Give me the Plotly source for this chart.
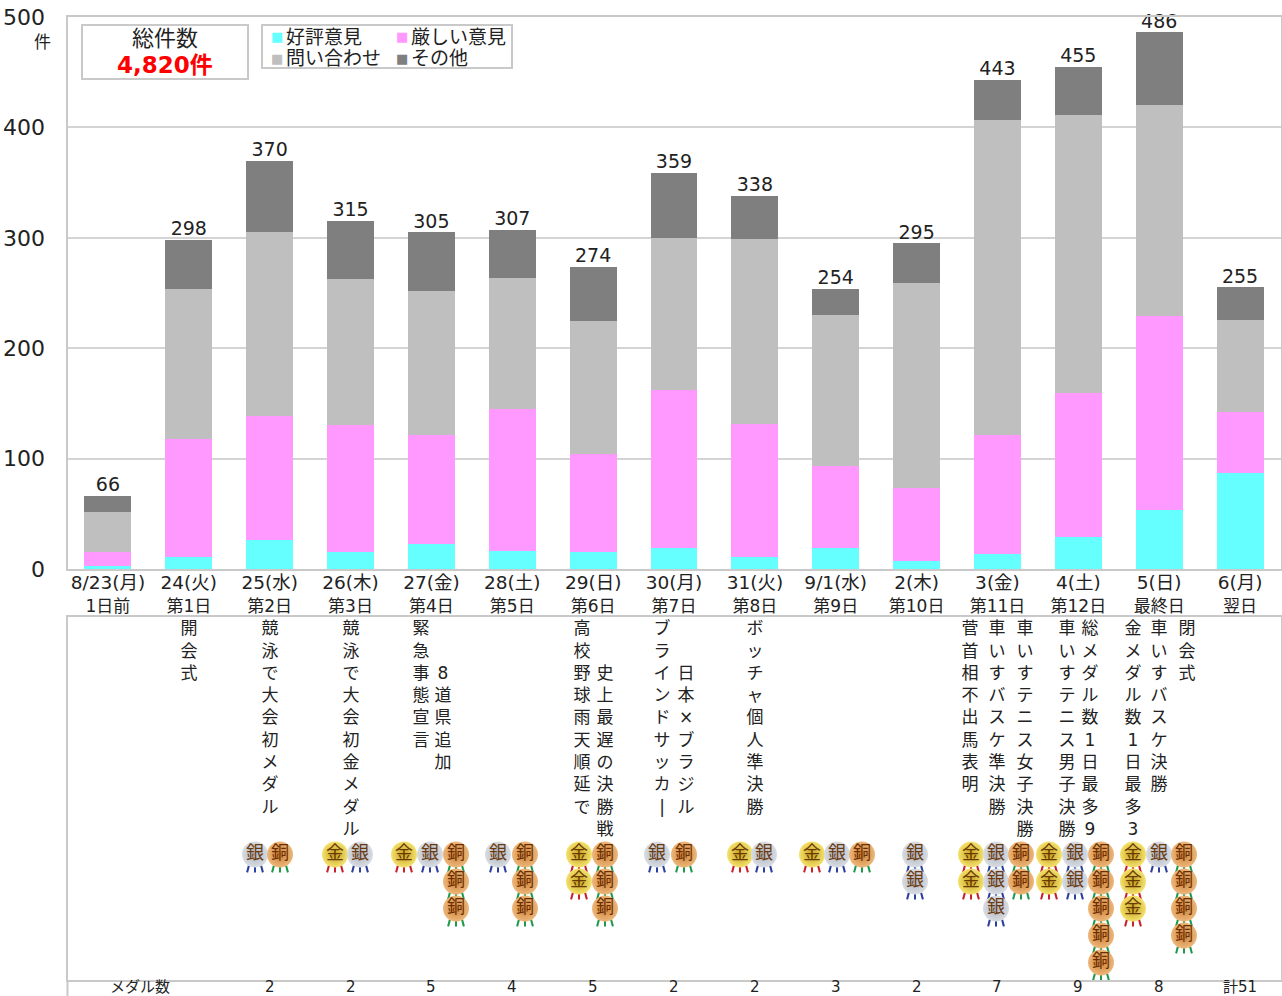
import plotly.graph_objects as go

# ---------- data ----------
dates = ["8/23(月)", "24(火)", "25(水)", "26(木)", "27(金)", "28(土)", "29(日)", "30(月)",
         "31(火)", "9/1(水)", "2(木)", "3(金)", "4(土)", "5(日)", "6(月)"]
days = ["1日前", "第1日", "第2日", "第3日", "第4日", "第5日", "第6日", "第7日",
        "第8日", "第9日", "第10日", "第11日", "第12日", "最終日", "翌日"]
good = [3, 11, 26, 15, 23, 16, 15, 19, 11, 19, 7, 14, 29, 53, 87]
severe = [12, 107, 113, 115, 98, 129, 89, 143, 120, 74, 66, 107, 130, 176, 55]
inquiry = [37, 136, 166, 133, 131, 119, 121, 138, 168, 137, 186, 286, 252, 191, 84]
other = [14, 44, 65, 52, 53, 43, 49, 59, 39, 24, 36, 36, 44, 66, 29]
totals = [66, 298, 370, 315, 305, 307, 274, 359, 338, 254, 295, 443, 455, 486, 255]
gold = [0, 0, 0, 1, 1, 0, 2, 0, 1, 1, 0, 2, 2, 3, 0]
silver = [0, 0, 1, 1, 1, 1, 0, 1, 1, 1, 2, 3, 2, 1, 0]
bronze = [0, 0, 1, 0, 3, 3, 3, 1, 0, 1, 0, 2, 5, 4, 0]
medal_counts = ["", "", "2", "2", "5", "4", "5", "2", "2", "3", "2", "7", "9", "8", "計51"]
events = {
    1: ["開会式"],
    2: ["競泳で大会初メダル"],
    3: ["競泳で大会初金メダル"],
    4: ["緊急事態宣言", "8道県追加"],
    6: ["高校野球雨天順延で", "史上最遅の決勝戦"],
    7: ["ブラインドサッカ|", "日本×ブラジル"],
    8: ["ボッチャ個人準決勝"],
    11: ["菅首相不出馬表明", "車いすバスケ準決勝", "車いすテニス女子決勝"],
    12: ["車いすテニス男子決勝", "総メダル数1日最多9"],
    13: ["金メダル数1日最多3", "車いすバスケ決勝", "閉会式"],
}

# ---------- layout helpers (pixels) ----------
W, H = 1282, 996
L, R = 67.5, 1280.5
STEP = (R - L) / 15
FONT = "DejaVu Sans, Noto Sans CJK JP, sans-serif"
TXT = "#222222"
LINE = "#c9c9c9"
xp = lambda px: px / W
yp = lambda py: 1 - py / H
xi = lambda px: (px - L) / STEP - 0.5

# pixel column of each medal colour, per day
col_gold = {3: 335, 4: 404, 6: 579, 8: 740, 9: 812, 11: 971, 12: 1049, 13: 1133}
col_silver = {2: 255, 3: 360, 4: 430, 5: 498, 7: 657, 8: 764, 9: 837, 10: 915, 11: 996, 12: 1075, 13: 1159}
col_bronze = {2: 280, 4: 456, 5: 525, 6: 605, 7: 684, 9: 862, 11: 1021, 12: 1101, 13: 1184}
event_cols = {1: [189], 2: [270], 3: [351], 4: [421, 443], 6: [582, 605], 7: [662, 686], 8: [755],
              11: [970, 997, 1025], 12: [1067, 1090], 13: [1133, 1159, 1187]}
event_rows = {4: [0, 2], 6: [0, 2], 7: [0, 2]}
ROW0, ROWSTEP = 854.5, 27
CH0, CHSTEP = 630, 22.3

fig = go.Figure()
idx = list(range(15))

for name, vals, color in [("好評意見", good, "#66FFFF"), ("厳しい意見", severe, "#FF99FF"),
                          ("問い合わせ", inquiry, "#BFBFBF"), ("その他", other, "#7F7F7F")]:
    fig.add_trace(go.Bar(x=idx, y=vals, name=name, marker=dict(color=color, line_width=0),
                         xaxis="x", yaxis="y", showlegend=False))

fig.add_trace(go.Scatter(x=idx, y=totals, mode="text", text=[str(t) for t in totals],
                         textposition="top center", cliponaxis=False,
                         textfont=dict(size=19, color=TXT, family=FONT),
                         xaxis="x", yaxis="y", showlegend=False, hoverinfo="skip"))

# event captions, one character per row
ex, ey, et = [], [], []
for d, lines in events.items():
    starts = event_rows.get(d, [0] * len(lines))
    for line, col, start in zip(lines, event_cols[d], starts):
        for k, ch in enumerate(line):
            ex.append(xi(col)); ey.append(CH0 + (start + k) * CHSTEP); et.append(ch)
fig.add_trace(go.Scatter(x=ex, y=ey, mode="text", text=et, textposition="middle center",
                         textfont=dict(size=17, color=TXT, family=FONT), cliponaxis=False,
                         xaxis="x2", yaxis="y2", showlegend=False, hoverinfo="skip"))

# medals
def medals(counts, cols, label, face, edge, ribbon, ink):
    mx, my = [], []
    for d, n in enumerate(counts):
        for r in range(n):
            mx.append(xi(cols[d])); my.append(ROW0 + r * ROWSTEP)
    for dx, ang in [(-7, 15), (0, 0), (7, -15)]:
        fig.add_trace(go.Scatter(x=[v + dx / STEP for v in mx], y=[v + 14.5 for v in my], mode="markers",
                                 marker=dict(symbol="line-ns", size=5, angle=ang,
                                             line=dict(color=ribbon, width=2)),
                                 xaxis="x2", yaxis="y2", showlegend=False, hoverinfo="skip"))
    fig.add_trace(go.Scatter(x=mx, y=my, mode="markers+text", text=[label] * len(mx),
                             textposition="middle center",
                             textfont=dict(size=18, color=ink, family=FONT),
                             marker=dict(symbol="circle", size=26, color=face,
                                         gradient=dict(type="radial", color=edge), line_width=0),
                             xaxis="x2", yaxis="y2", showlegend=False, hoverinfo="skip"))

medals(gold, col_gold, "金", "#F4E26E", "#C4A020", "#C8202C", "#6B3A00")
medals(silver, col_silver, "銀", "#D9DDE3", "#AEB5C0", "#2B3F9E", "#6B3A10")
medals(bronze, col_bronze, "銅", "#EDB77A", "#CC8138", "#1E9A4A", "#6B2E00")

shapes = [
    dict(type="rect", xref="paper", yref="paper", x0=xp(82), x1=xp(248), y0=yp(79), y1=yp(25),
         line=dict(color=LINE, width=2), fillcolor="white", layer="above"),
    dict(type="rect", xref="paper", yref="paper", x0=xp(262), x1=xp(512), y0=yp(68), y1=yp(25),
         line=dict(color=LINE, width=2), fillcolor="white", layer="above"),
    dict(type="line", xref="paper", yref="paper", x0=xp(L), x1=xp(L), y0=yp(996), y1=yp(980),
         line=dict(color=LINE, width=2)),
]

def note(px, py, text, size, color=TXT, anchor="center", bold=False):
    return dict(xref="paper", yref="paper", x=xp(px), y=yp(py), text=f"<b>{text}</b>" if bold else text,
                showarrow=False, xanchor=anchor, yanchor="middle",
                font=dict(size=size, color=color, family=FONT))

annotations = [
    note(42, 42, "件", 17),
    note(165, 38, "総件数", 22),
    note(165, 65, "4,820件", 23, "#FF0000", bold=True),
    note(269, 36, "■", 13, "#66FFFF", "left"), note(284, 37, "好評意見", 19, TXT, "left"),
    note(394, 36, "■", 13, "#FF99FF", "left"), note(409, 37, "厳しい意見", 19, TXT, "left"),
    note(269, 58, "■", 13, "#BFBFBF", "left"), note(284, 58, "問い合わせ", 19, TXT, "left"),
    note(394, 58, "■", 13, "#7F7F7F", "left"), note(409, 58, "その他", 19, TXT, "left"),
    note(140, 987, "メダル数", 15),
]
# medal count row, placed on the day positions of the lower panel
for i, c in zip(idx, medal_counts):
    if c:
        annotations.append(dict(xref="x2", yref="paper", x=i, y=yp(987), text=c, showarrow=False,
                                xanchor="center", yanchor="middle", font=dict(size=15, color=TXT, family=FONT)))

fig.update_layout(
    width=W, height=H, margin=dict(l=0, r=0, t=0, b=0, autoexpand=False), autosize=False,
    paper_bgcolor="white", plot_bgcolor="white", barmode="stack", bargap=0.42,
    font=dict(family=FONT, color=TXT), shapes=shapes, annotations=annotations,
    xaxis=dict(domain=[xp(L), xp(R)], range=[-0.5, 14.5], tickmode="array", tickvals=idx,
               ticktext=[f'<span style="font-size:18.5px">{a}</span><br>{b}' for a, b in zip(dates, days)],
               tickfont=dict(size=17, family=FONT, color=TXT), ticklabelstandoff=-2,
               showgrid=False, zeroline=False, showline=True, linecolor=LINE, linewidth=2, mirror=True, ticks=""),
    yaxis=dict(domain=[yp(569), yp(17)], range=[0, 500], tickmode="array", tickvals=[0, 100, 200, 300, 400, 500],
               tickfont=dict(size=22, family=FONT, color=TXT), showgrid=True, gridcolor="#d4d4d4", gridwidth=1.5,
               zeroline=False, showline=True, linecolor=LINE, linewidth=2, mirror=True, ticks="", ticklabelstandoff=16),
    xaxis2=dict(domain=[xp(L), xp(R)], range=[-0.5, 14.5], anchor="y2", showticklabels=False, showgrid=False,
                zeroline=False, showline=True, linecolor=LINE, linewidth=2, mirror=True, ticks=""),
    yaxis2=dict(domain=[yp(980), yp(617)], range=[980, 617], anchor="x2", showticklabels=False, showgrid=False,
                zeroline=False, showline=True, linecolor=LINE, linewidth=2, mirror=True, ticks=""),
)

fig.write_html("out.html", config={"displayModeBar": False},
               post_script="document.body.style.margin='0';document.documentElement.style.overflow='hidden';")
